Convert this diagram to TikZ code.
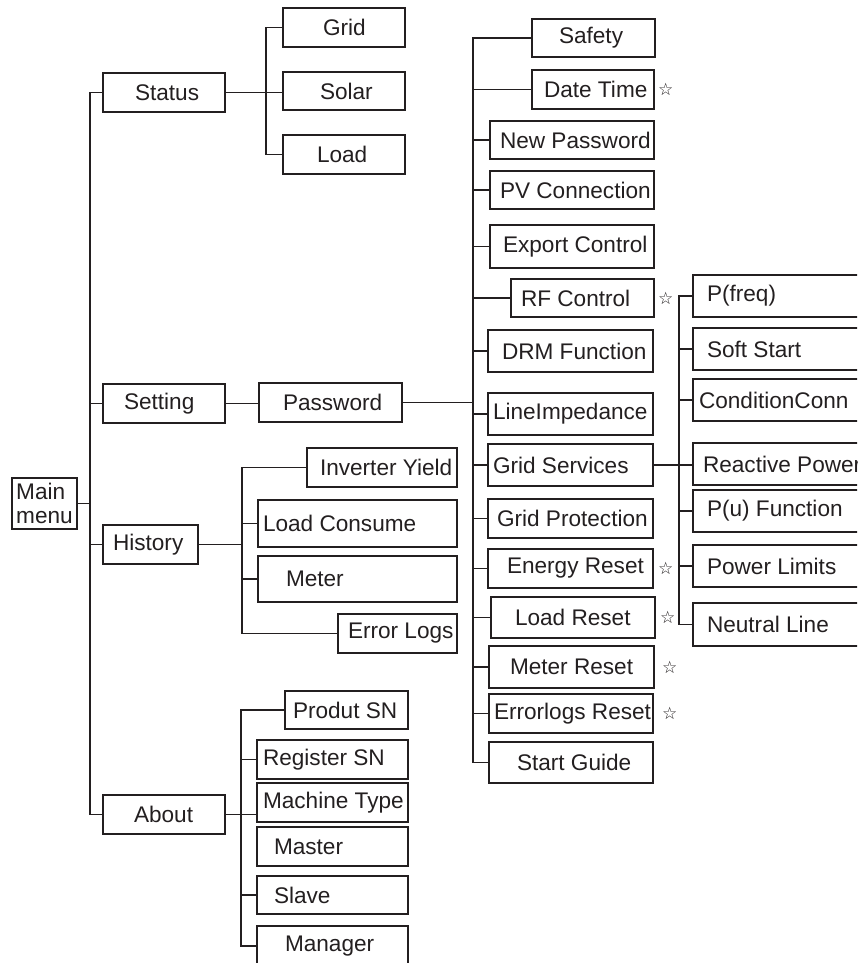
\documentclass[tikz,border=0pt]{standalone}
\usepackage{fontspec}
\setmainfont{Liberation Sans}
\newfontfamily\symfont{DejaVu Sans}
\usepackage{tikz}
\usetikzlibrary{positioning}
\definecolor{ink}{HTML}{231F20}

\begin{document}
\begin{tikzpicture}[
    x=1pt, y=-1pt,
    % Style for the menu boxes
    menubox/.style={
        rectangle,
        draw=ink,
        line width=1.9pt,
        inner sep=0pt,
        anchor=north west,
        text=ink,
        font=\fontsize{22.6}{24}\selectfont,
        outer sep=0pt
    },
    % Style for the branch lines
    branch/.style={draw=ink, line width=1.9pt, line cap=rect},
    % Style for the star marks
    starmark/.style={inner sep=0pt, text=ink, font=\symfont\fontsize{17}{17}\selectfont}
]

    % --- Page ---
    \useasboundingbox (0,0) rectangle (857,963);
    \clip (0,0) rectangle (857,963);

    % --- Root ---
    \node[menubox, align=left, inner xsep=4pt, minimum width=65pt, minimum height=51pt]
        (mainmenu) at (12,478) {Main\\menu};

    % --- Boxes: name/x/y/width/height/text indent/label ---
    \foreach \n/\x/\y/\w/\h/\p/\t in {
        status/103/73/122/39/32/Status,
        grid/283/8/122/39/40/Grid,
        solar/283/72/122/38/37/Solar,
        load/283/135/122/39/34/Load,
        setting/103/384/122/39/21/Setting,
        password/259/383/143/39/24/Password,
        history/103/525/95/39/10/History,
        invyield/307/448/150/39/13/Inverter Yield,
        loadcons/258/500/199/47/5/Load Consume,
        meter/258/556/199/46/28/Meter,
        errlogs/338/614/119/39/10/Error Logs,
        about/103/795/122/39/31/About,
        prodsn/285/691/123/38/8/Produt SN,
        regsn/257/740/151/39/6/Register SN,
        machtype/257/783/151/39/6/Machine Type,
        master/257/827/151/39/17/Master,
        slave/257/876/151/38/17/Slave,
        manager/257/926/151/40/28/Manager,
        safety/532/19/123/38/27/Safety,
        datetime/532/70/122/39/12/Date Time,
        newpwd/490/121/164/38/10/New Password,
        pvconn/490/171/164/38/10/PV Connection,
        export/490/225/164/43/13/Export Control,
        rfctrl/511/279/143/38/10/RF Control,
        drm/488/330/165/42/14/DRM Function,
        lineimp/488/393/165/42/5/LineImpedance,
        gridserv/488/444/165/42/5/Grid Services,
        gridprot/488/499/165/39/9/Grid Protection,
        energyrst/488/549/165/39/19/Energy Reset,
        loadrst/491/597/164/41/24/Load Reset,
        meterrst/489/646/165/42/21/Meter Reset,
        errlogrst/489/694/164/39/5/Errorlogs Reset,
        startguide/489/742/164/41/28/Start Guide,
        pfreq/693/275/180/42/14/{P(freq)},
        softstart/693/328/180/42/14/Soft Start,
        condconn/693/379/180/42/6/ConditionConn,
        reactive/693/443/180/42/10/Reactive Power,
        pu/693/490/180/42/14/{P(u) Function},
        powerlim/693/545/180/42/14/Power Limits,
        neutral/693/603/180/43/14/Neutral Line%
    } {
        \node[menubox, minimum height=\h pt] (\n) at (\x,\y)
            {\makebox[\w pt][l]{\hspace*{\p pt}\t}};
    }

    % --- Branch lines ---
    \coordinate (mainbus) at (90,0);
    \coordinate (statusbus) at (266,0);
    \coordinate (historybus) at (242,0);
    \coordinate (aboutbus) at (241,0);
    \coordinate (settingbus) at (473,0);
    \coordinate (servicebus) at (679,0);

    % main menu
    \draw[branch] (mainmenu.east) -- (mainbus |- mainmenu.east);
    \draw[branch] (mainbus |- status.west) -- (mainbus |- about.west);
    \foreach \c in {status,setting,history,about}
        \draw[branch] (mainbus |- \c.west) -- (\c.west);

    % status
    \draw[branch] (status.east) -- (solar.west |- status.east);
    \draw[branch] (statusbus |- grid.west) -- (statusbus |- load.west);
    \foreach \c in {grid,load}
        \draw[branch] (statusbus |- \c.west) -- (\c.west);

    % setting
    \draw[branch] (setting.east) -- (password.west |- setting.east);
    \draw[branch] (password.east) -- (settingbus |- password.east);
    \draw[branch] (settingbus |- safety.west) -- (settingbus |- startguide.west);
    \foreach \c in {safety,datetime,newpwd,pvconn,export,rfctrl,drm,lineimp,
                    gridserv,gridprot,energyrst,loadrst,meterrst,errlogrst,startguide}
        \draw[branch] (settingbus |- \c.west) -- (\c.west);

    % grid services
    \draw[branch] (gridserv.east) -- (reactive.west |- gridserv.east);
    \draw[branch] (servicebus |- pfreq.west) -- (servicebus |- neutral.west);
    \foreach \c in {pfreq,softstart,condconn,pu,powerlim,neutral}
        \draw[branch] (servicebus |- \c.west) -- (\c.west);

    % history
    \draw[branch] (history.east) -- (historybus |- history.east);
    \draw[branch] (historybus |- invyield.west) -- (historybus |- errlogs.west);
    \foreach \c in {invyield,loadcons,meter,errlogs}
        \draw[branch] (historybus |- \c.west) -- (\c.west);

    % about
    \draw[branch] (about.east) -- (machtype.west |- about.east);
    \draw[branch] (aboutbus |- prodsn.west) -- (aboutbus |- manager.west);
    \foreach \c in {prodsn,regsn,slave,manager}
        \draw[branch] (aboutbus |- \c.west) -- (\c.west);

    % --- Star marks ---
    \foreach \b/\d in {datetime/4, rfctrl/4, energyrst/5, loadrst/5, meterrst/8, errlogrst/9}
        \node[starmark, right=\d pt of \b] (\b-star) {☆};

\end{tikzpicture}
\end{document}
